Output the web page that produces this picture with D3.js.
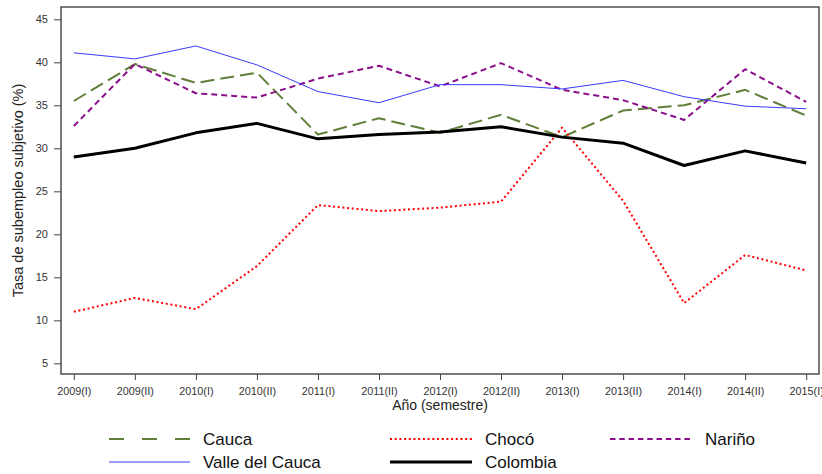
<!DOCTYPE html>
<html><head><meta charset="utf-8">
<script src="https://cdn.jsdelivr.net/npm/d3@7"></script>
<style>body{margin:0;background:#fff;}svg{display:block;font-family:"Liberation Sans",Arial,sans-serif;}</style>
</head><body><svg id="c" width="822" height="474"></svg>
<script>
const periods = ["2009(I)","2009(II)","2010(I)","2010(II)","2011(I)","2011(II)","2012(I)","2012(II)","2013(I)","2013(II)","2014(I)","2014(II)","2015(I)"];
const cauca    = [35.5,39.8,37.6,38.8,31.6,33.5,31.8,33.9,31.3,34.4,35.0,36.8,33.8];
const choco    = [11.0,12.6,11.3,16.3,23.4,22.7,23.1,23.8,32.4,23.9,12.0,17.6,15.8];
const narino   = [32.6,39.8,36.4,35.9,38.1,39.6,37.2,39.9,36.8,35.6,33.3,39.2,35.4];
const valle    = [41.1,40.4,41.9,39.7,36.6,35.3,37.4,37.4,36.9,37.9,36.0,34.9,34.6];
const colombia = [29.0,30.0,31.8,32.9,31.1,31.6,31.9,32.5,31.3,30.6,28.0,29.7,28.3];
const yTicks = [5,10,15,20,25,30,35,40,45];
const seriesNames = ["Cauca","Chocó","Nariño","Valle del Cauca","Colombia"];

const styles = {
  "Cauca":{color:"#5f7f38",width:2,dash:"14,6",legDash:"15,18"},
  "Chocó":{color:"#ff0000",width:2,dash:"2,2.7",legDash:"2,2.7"},
  "Nariño":{color:"#8b0f8b",width:2,dash:"6,4",legDash:"5.5,3.8"},
  "Valle del Cauca":{color:"#3a3aff",width:1,dash:null,legDash:null},
  "Colombia":{color:"#000000",width:3,dash:null,legDash:null}
};
const data = {"Cauca":cauca,"Chocó":choco,"Nariño":narino,"Valle del Cauca":valle,"Colombia":colombia};

const svg = d3.select("#c");
const L=61,R=819,T=7,B=374;
const x = d3.scalePoint().domain(periods).range([L,R]).padding(0.21);
const y = d3.scaleLinear().domain([3.76,46.43]).range([B,T]);

// box
svg.append("rect").attr("x",L).attr("y",T).attr("width",R-L).attr("height",B-T)
  .attr("fill","none").attr("stroke","#333").attr("stroke-width",1.3);

// y axis
const ya = svg.append("g").attr("transform",`translate(${L},0)`)
  .call(d3.axisLeft(y).tickValues(yTicks).tickSize(7).tickPadding(6));
ya.select(".domain").remove();
ya.selectAll("line").attr("stroke","#444");
ya.selectAll("text").attr("font-size","11px").attr("fill","#333").attr("font-family","Liberation Sans, Arial, sans-serif");

// x axis
const xa = svg.append("g").attr("transform",`translate(0,${B})`)
  .call(d3.axisBottom(x).tickSize(6).tickPadding(7));
xa.select(".domain").remove();
xa.selectAll("line").attr("stroke","#444");
xa.selectAll("text").attr("font-size","10.8px").attr("fill","#333").attr("font-family","Liberation Sans, Arial, sans-serif");

// axis titles
svg.append("text").attr("x",(L+R)/2).attr("y",410).attr("text-anchor","middle")
  .attr("font-size","14px").attr("fill","#222").text("Año (semestre)");
svg.append("text").attr("transform",`translate(23,${(T+B)/2}) rotate(-90)`).attr("text-anchor","middle")
  .attr("font-size","14.5px").attr("fill","#222").text("Tasa de subempleo subjetivo (%)");

// lines
const line = d3.line().x((d,i)=>x(periods[i])).y(d=>y(d));
seriesNames.forEach(n=>{
  const s = styles[n];
  const p = svg.append("path").datum(data[n]).attr("d",line).attr("fill","none")
    .attr("stroke",s.color).attr("stroke-width",s.width).attr("stroke-linejoin","round");
  if(s.dash) p.attr("stroke-dasharray",s.dash);
});

// legend
const leg = [
  {n:"Cauca",x1:109,x2:190,tx:203,y:439},
  {n:"Chocó",x1:390,x2:472,tx:485,y:439},
  {n:"Nariño",x1:610,x2:692,tx:705,y:439},
  {n:"Valle del Cauca",x1:109,x2:190,tx:203,y:462},
  {n:"Colombia",x1:390,x2:472,tx:485,y:462}
];
leg.forEach(l=>{
  const s = styles[l.n];
  const ln = svg.append("line").attr("x1",l.x1).attr("x2",l.x2).attr("y1",l.y).attr("y2",l.y)
    .attr("stroke",s.color).attr("stroke-width",s.width);
  if(s.legDash) ln.attr("stroke-dasharray",s.legDash);
  svg.append("text").attr("x",l.tx).attr("y",l.y+6).attr("font-size","17px").attr("fill","#111").text(l.n);
});
</script></body></html>
